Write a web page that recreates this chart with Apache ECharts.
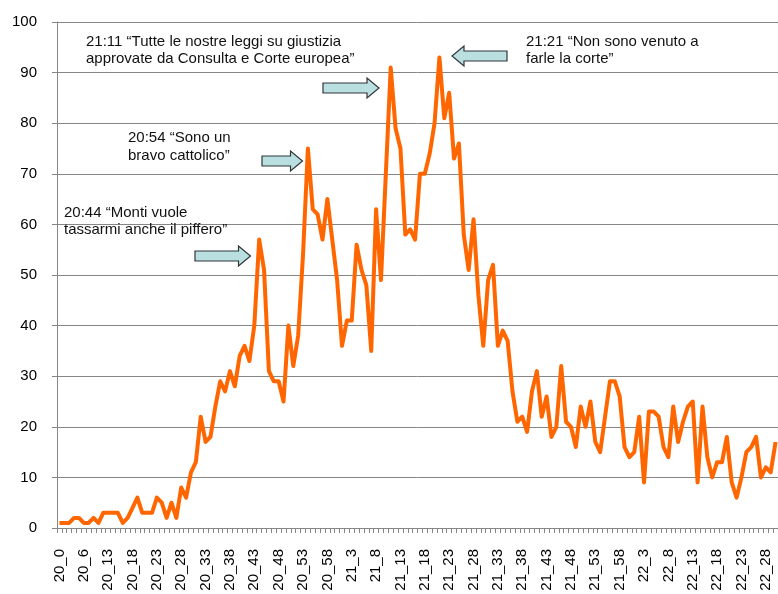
<!DOCTYPE html>
<html>
<head>
<meta charset="utf-8">
<title>Tweet per minuto</title>
<script src="https://cdn.jsdelivr.net/npm/echarts@6/dist/echarts.min.js"></script>
<style>
  html, body { margin: 0; padding: 0; background: #fff; }
  #chart { width: 778px; height: 594px; }
</style>
</head>
<body>
<div id="chart"></div>
<script>
// minute labels (hour_minute), a few minutes missing at the start
const minuteLabels = [
  '20_0','20_1','20_2','20_4','20_5','20_6','20_7','20_8','20_10','20_12',
  '20_13','20_14','20_15','20_16','20_17','20_18','20_19','20_20','20_21','20_22',
  '20_23','20_24','20_25','20_26','20_27','20_28','20_29','20_30','20_31','20_32',
  '20_33','20_34','20_35','20_36','20_37','20_38','20_39','20_40','20_41','20_42',
  '20_43','20_44','20_45','20_46','20_47','20_48','20_49','20_50','20_51','20_52',
  '20_53','20_54','20_55','20_56','20_57','20_58','20_59','21_0','21_1','21_2',
  '21_3','21_4','21_5','21_6','21_7','21_8','21_9','21_10','21_11','21_12',
  '21_13','21_14','21_15','21_16','21_17','21_18','21_19','21_20','21_21','21_22',
  '21_23','21_24','21_25','21_26','21_27','21_28','21_29','21_30','21_31','21_32',
  '21_33','21_34','21_35','21_36','21_37','21_38','21_39','21_40','21_41','21_42',
  '21_43','21_44','21_45','21_46','21_47','21_48','21_49','21_50','21_51','21_52',
  '21_53','21_54','21_55','21_56','21_57','21_58','21_59','22_0','22_1','22_2',
  '22_3','22_4','22_5','22_6','22_7','22_8','22_9','22_10','22_11','22_12',
  '22_13','22_14','22_15','22_16','22_17','22_18','22_19','22_20','22_21','22_22',
  '22_23','22_24','22_25','22_26','22_27','22_28','22_29','22_30'
];

// values per minute
const perMinute = [
  1,1,1,2,2,1,1,2,1,3,
  3,3,3,1,2,4,6,3,3,3,
  6,5,2,5,2,8,6,11,13,22,
  17,18,24,29,27,31,28,34,36,33,
  40,57,51,31,29,29,25,40,32,38,
  54,75,63,62,57,65,57,49,36,41,
  41,56,51,48,35,63,49,70,91,79,
  75,58,59,57,70,70,74,80,93,81,
  86,73,76,58,51,61,46,36,49,52,
  36,39,37,27,21,22,19,27,31,22,
  26,18,20,32,21,20,16,24,20,25,
  17,15,22,29,29,26,16,14,15,22,
  9,23,23,22,16,14,24,17,21,24,
  25,9,24,14,10,13,13,18,9,6,
  10,15,16,18,10,12,11,17
];

const yTicks = { min: 0, max: 100, step: 10 };

// quotes shown on the chart
const quotes = [
  { lines: ['21:11 \u201cTutte le nostre leggi su giustizia', 'approvate da Consulta e Corte europea\u201d'], x: 86, y: [41.5, 59] },
  { lines: ['21:21 \u201cNon sono venuto a', 'farle la corte\u201d'], x: 526, y: [41.5, 59] },
  { lines: ['20:54 \u201cSono un', 'bravo cattolico\u201d'], x: 128, y: [138, 155.5] },
  { lines: ['20:44 \u201cMonti vuole', 'tassarmi anche il piffero\u201d'], x: 64, y: [212.5, 230] }
];

// block arrows: tail x, tip x, centre y
const arrows = [
  { from: 323, to: 379, y: 88 },
  { from: 507, to: 452, y: 56 },
  { from: 262, to: 302.5, y: 161 },
  { from: 195, to: 250.5, y: 256 }
];

function arrowPoints(a) {
  const dir = a.to > a.from ? 1 : -1;
  const neck = a.to - dir * 12;
  return [
    [a.from, a.y - 5], [neck, a.y - 5], [neck, a.y - 10], [a.to, a.y],
    [neck, a.y + 10], [neck, a.y + 5], [a.from, a.y + 5]
  ];
}

const font = '"Liberation Sans", Arial, sans-serif';
const gray = '#868686';

const graphic = [];
arrows.forEach(function (a) {
  graphic.push({
    type: 'polygon',
    shape: { points: arrowPoints(a) },
    style: { fill: '#b9dfe1', stroke: '#2f3638', lineWidth: 1.2 },
    z: 10
  });
});
quotes.forEach(function (q) {
  q.lines.forEach(function (t, i) {
    graphic.push({
      type: 'text',
      x: q.x,
      y: q.y[i],
      style: { text: t, fontSize: 15, fontFamily: font, fill: '#111', verticalAlign: 'middle', align: 'left' },
      z: 10
    });
  });
});

const chart = echarts.init(document.getElementById('chart'));
chart.setOption({
  animation: false,
  backgroundColor: '#fff',
  grid: { left: 57, right: -1, top: 22, bottom: 66, containLabel: false },
  xAxis: {
    type: 'category',
    data: minuteLabels,
    boundaryGap: true,
    axisLine: { lineStyle: { color: gray, width: 1 } },
    axisTick: { show: true, interval: 0, length: 5, lineStyle: { color: gray } },
    axisLabel: { interval: 4, rotate: 90, fontSize: 15, fontFamily: font, color: '#000', margin: 21 },
    splitLine: { show: false }
  },
  yAxis: {
    type: 'value',
    min: yTicks.min,
    max: yTicks.max,
    interval: yTicks.step,
    axisLine: { show: true, lineStyle: { color: gray, width: 1 } },
    axisTick: { show: true, length: 5, lineStyle: { color: gray } },
    axisLabel: { fontSize: 15, fontFamily: font, color: '#000', margin: 20 },
    splitLine: { show: true, lineStyle: { color: gray, width: 1 } }
  },
  series: [{
    type: 'line',
    data: perMinute,
    symbol: 'none',
    lineStyle: { color: '#ff6600', width: 4, join: 'round' },
    itemStyle: { color: '#ff6600' }
  }],
  graphic: graphic
});
</script>
</body>
</html>
